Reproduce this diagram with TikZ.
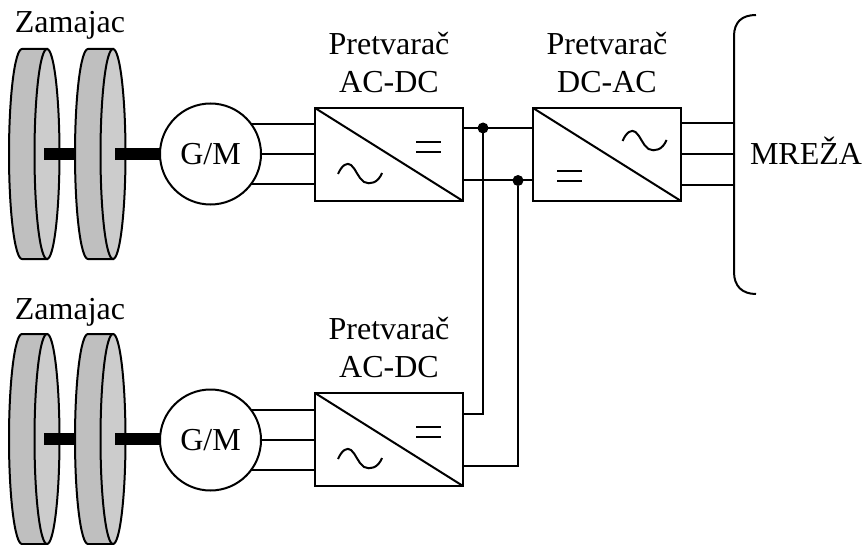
\documentclass[tikz,border=0pt]{standalone}
\usepackage{fontspec}
\setmainfont{Liberation Serif}
\usetikzlibrary{positioning}
\tikzset{
  pics/acsign/.style={code={
    \draw (0,0) .. controls (4,9) and (9,12) .. (13,9) .. controls (18,5) and (20,-4) .. (26,-8)
      .. controls (32,-11) and (40,-9) .. (44,1);
  }},
  pics/dcsign/.style={code={
    \draw (0,5) -- (25,5);
    \draw (0,-5) -- (25,-5);
  }}
}
\begin{document}
\begin{tikzpicture}
        [x=1pt,y=1pt,line width=2pt,
        every node/.style={font=\fontsize{32}{38}\selectfont,inner sep=0pt,outer sep=0pt},
        machine/.style={draw,circle,fill=white,minimum size=101pt},
        conv/.style={draw,rectangle,minimum width=148pt,minimum height=93pt},
        caption/.style={align=center,above=15pt of #1},
        junction/.style={fill=black,circle,minimum size=11pt},
        diskside/.style={draw,fill=black!25},
        diskfront/.style={draw,fill=black!20},
        shaft/.style={fill=black,draw=none}]
        \useasboundingbox (0,0) rectangle (866,544);
        % flywheels, upper and lower row
        \foreach \ym in {390,105} {
          \foreach \xb/\xe in {22/44,88/115} {
            \pgfmathsetmacro{\xf}{\xb+25}
            \draw[diskside] (\xf,\ym+105) -- (\xb,\ym+105)
              arc[start angle=90,delta angle=180,x radius=13,y radius=105] -- (\xf,\ym-105) -- cycle;
            \draw[diskfront] (\xf,\ym) ellipse [x radius=12.5,y radius=105];
            \fill[shaft] (\xe,\ym-6) rectangle (\xe+45,\ym+6);
          }
        }
        \node[anchor=base] (fly1) at (70,511) {Zamajac};
        \node[anchor=base] (fly2) at (70,225) {Zamajac};
        \node[machine] (gm1) at (210.5,390) {G/M};
        \node[machine] (gm2) at (210.5,104) {G/M};
        \node[conv] (conv1) at (389,389.5) {};
        \node[conv] (conv2) at (389,104.5) {};
        \node[conv] (conv3) at (607,389.5) {};
        \node[caption=conv1] (cap1) {Pretvarač\\AC-DC};
        \node[caption=conv2] (cap2) {Pretvarač\\AC-DC};
        \node[caption=conv3] (cap3) {Pretvarač\\DC-AC};
        \node[anchor=base] (grid) at (806,379) {MREŽA};
        % network bus
        \coordinate (bus) at (734,390);
        \draw (756,529) .. controls (742,529) and (734,522) .. (734,508) -- (734,272)
          .. controls (734,258) and (742,250) .. (756,250);
        % box contents
        \draw (conv1.north west) -- (conv1.south east);
        \draw (conv2.north west) -- (conv2.south east);
        \draw (conv3.north west) -- (conv3.south east);
        \path (338,370) pic {acsign} (416,397) pic {dcsign};
        \path (338,85) pic {acsign} (416,112) pic {dcsign};
        \path (622.5,403) pic {acsign} (557,367.5) pic {dcsign};
        % three phase lines
        \foreach \ang in {37,0,-37} {
          \draw (gm1.\ang) -- (gm1.\ang -| conv1.west);
          \draw (gm2.\ang) -- (gm2.\ang -| conv2.west);
        }
        \foreach \dy in {31,0,-31} {
          \draw ([yshift=\dy pt]conv3.east) -- ([yshift=\dy pt]conv3.east -| bus);
        }
        % dc link
        \coordinate (dcp1) at ([yshift=26.5pt]conv1.east);
        \coordinate (dcn1) at ([yshift=-26pt]conv1.east);
        \coordinate (dcp2) at ([yshift=26pt]conv2.east);
        \coordinate (dcn2) at ([yshift=-26pt]conv2.east);
        \draw (dcp1) -- (dcp1 -| conv3.west);
        \draw (dcn1) -- (dcn1 -| conv3.west);
        \node[junction] (jp) at (483,416) {};
        \node[junction] (jn) at (518,363.5) {};
        \draw (jp) -- (jp |- dcp2) -- (dcp2);
        \draw (jn) -- (jn |- dcn2) -- (dcn2);
      \end{tikzpicture}
\end{document}
